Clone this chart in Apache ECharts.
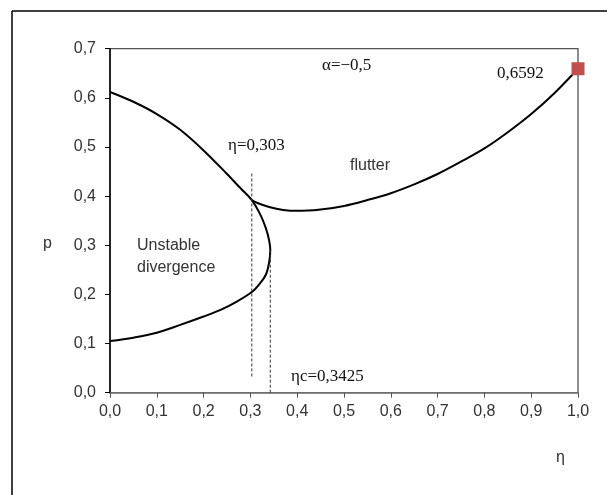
<!DOCTYPE html>
<html>
<head>
<meta charset="utf-8">
<script src="https://cdn.jsdelivr.net/npm/echarts@6/dist/echarts.min.js"></script>
<style>
  html, body { margin: 0; padding: 0; background: #fff; }
  #chart { width: 607px; height: 495px; }
</style>
</head>
<body>
<div id="chart"></div>
<script>
// divergence boundary (upper branch -> nose at eta_c -> lower branch)
const divEta = [0, 0.05, 0.1, 0.15, 0.2, 0.25, 0.28, 0.303, 0.32, 0.333, 0.34, 0.3425, 0.34, 0.333, 0.32, 0.303, 0.27, 0.235, 0.2, 0.15, 0.1, 0.05, 0];
const divP   = [0.612, 0.592, 0.567, 0.535, 0.493, 0.445, 0.415, 0.392, 0.365, 0.335, 0.31, 0.29, 0.265, 0.24, 0.222, 0.205, 0.185, 0.168, 0.155, 0.138, 0.122, 0.112, 0.105];

// flutter boundary
const flutEta = [0.303, 0.315, 0.34, 0.37, 0.4, 0.45, 0.5, 0.55, 0.6, 0.65, 0.7, 0.75, 0.8, 0.85, 0.9, 0.95, 1.0];
const flutP   = [0.392, 0.386, 0.378, 0.372, 0.37, 0.373, 0.38, 0.392, 0.406, 0.424, 0.445, 0.47, 0.497, 0.53, 0.567, 0.61, 0.6592];

// reference lines
const eta303Line = [[0.303, 0.033], [0.303, 0.45]];
const etaCLine   = [[0.3425, 0], [0.3425, 0.29]];
const endPoint   = [[1.0, 0.6592]];

const zip = (a, b) => a.map((v, i) => [v, b[i]]);
const comma = v => v.toFixed(1).replace('.', ',');

const chart = echarts.init(document.getElementById('chart'));
const sans = 'Liberation Sans, Arial, sans-serif';
const serif = 'Liberation Serif, Times New Roman, serif';

chart.setOption({
  animation: false,
  backgroundColor: '#fff',
  grid: {
    left: 110, right: 29, top: 48.7, bottom: 102.3,
    show: true, borderColor: '#555', borderWidth: 1.3
  },
  xAxis: {
    type: 'value', min: 0, max: 1, interval: 0.1,
    axisLine: { lineStyle: { color: '#777', width: 1.5 } },
    axisTick: { show: true, length: 5, lineStyle: { color: '#555' } },
    axisLabel: { formatter: comma, color: '#333', fontFamily: sans, fontSize: 16, margin: 11 },
    splitLine: { show: false }
  },
  yAxis: {
    type: 'value', min: 0, max: 0.7, interval: 0.1,
    axisLine: { show: true, lineStyle: { color: '#000', width: 1.5 } },
    axisTick: { show: true, length: 5, lineStyle: { color: '#000' } },
    axisLabel: { formatter: comma, color: '#333', fontFamily: sans, fontSize: 16, margin: 14 },
    splitLine: { show: false }
  },
  series: [
    {
      type: 'line', data: zip(divEta, divP), smooth: 0.35, showSymbol: false,
      lineStyle: { color: '#000', width: 2 }
    },
    {
      type: 'line', data: zip(flutEta, flutP), smooth: 0.35, showSymbol: false,
      lineStyle: { color: '#000', width: 2 }
    },
    {
      type: 'line', data: eta303Line, showSymbol: false,
      lineStyle: { color: '#333', width: 1, type: [3, 2] }
    },
    {
      type: 'line', data: etaCLine, showSymbol: false,
      lineStyle: { color: '#333', width: 1, type: [3, 2] }
    },
    {
      type: 'scatter', data: endPoint, symbol: 'rect', symbolSize: 13,
      itemStyle: { color: '#c0504d', opacity: 1 }, clip: false, z: 5
    }
  ],
  graphic: [
    { type: 'line', shape: { x1: 12, y1: 11, x2: 12, y2: 495 }, style: { stroke: '#000', lineWidth: 1.5 } },
    { type: 'line', shape: { x1: 12, y1: 11, x2: 607, y2: 11 }, style: { stroke: '#000', lineWidth: 1.5 } },
    { type: 'text', left: 43, top: 236, style: { text: 'p', font: '16px ' + sans, fill: '#333' } },
    { type: 'text', left: 556, top: 450, style: { text: 'η', font: '16px ' + sans, fill: '#333' } },
    { type: 'text', left: 322, top: 57, style: { text: 'α=−0,5', font: '17px ' + serif, fill: '#111' } },
    { type: 'text', left: 497, top: 65, style: { text: '0,6592', font: '17px ' + serif, fill: '#111' } },
    { type: 'text', left: 228, top: 137, style: { text: 'η=0,303', font: '17px ' + serif, fill: '#111' } },
    { type: 'text', left: 350, top: 158, style: { text: 'flutter', font: '16px ' + sans, fill: '#333' } },
    { type: 'text', left: 137, top: 235, style: { text: 'Unstable\ndivergence', font: '16px ' + sans, fill: '#333', lineHeight: 22 } },
    { type: 'text', left: 291, top: 368, style: { text: 'ηc=0,3425', font: '17px ' + serif, fill: '#111' } }
  ]
});
</script>
</body>
</html>
